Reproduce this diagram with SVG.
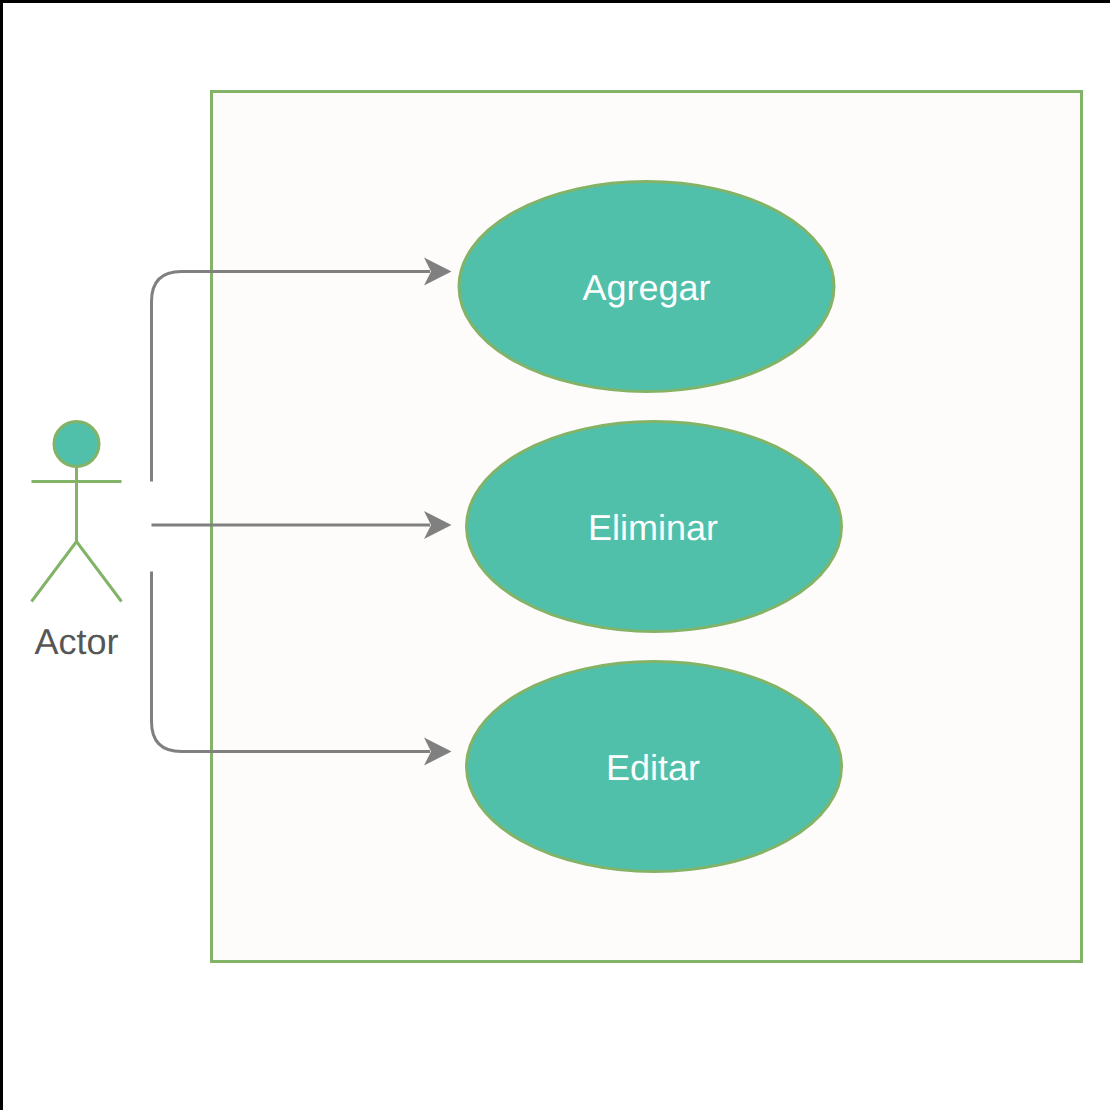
<svg xmlns="http://www.w3.org/2000/svg" width="1110" height="1110" viewBox="0 0 1110 1110">
<style>
.n{fill:#51c0aa;stroke:#82b366;stroke-width:3}
.l{fill:none;stroke:#82b366;stroke-width:3}
.c{fill:none;stroke:#808080;stroke-width:3}
.a{fill:#808080;stroke:none}
text{font-family:"Liberation Sans",Arial,sans-serif;font-size:36px;text-anchor:middle;text-rendering:geometricPrecision;opacity:.99}
.t{fill:#fff}
</style>
<rect x="0" y="0" width="1110" height="1110" fill="#fff"/>
<path d="M1.5 1110V1.5H1110" fill="none" stroke="#000" stroke-width="3"/>
<g id="system"><rect x="211.500" y="91.500" width="870" height="870" fill="#fdfcfa" stroke="#82b366" stroke-width="3"/></g>
<g id="connectors">
<path class="c" d="M151.500 481.500V301.500Q151.500 271.500 181.500 271.500H430"/>
<path class="a" d="M451.500 271.500L424 285.500L431 271.500L424 257.500Z"/>
<path class="c" d="M151.500 525H430"/>
<path class="a" d="M451.500 525L424 539L431 525L424 511Z"/>
<path class="c" d="M151.500 571.500V721.500Q151.500 751.500 181.500 751.500H430"/>
<path class="a" d="M451.500 751.500L424 765.500L431 751.500L424 737.500Z"/>
</g>
<g id="actor">
<ellipse class="n" cx="76.500" cy="444" rx="22.500" ry="22.500"/>
<path class="l" d="M76.500 466.500V541.500M31.500 481.500H121.500M31.500 601.500L76.500 541.500L121.500 601.500"/>
<text x="76.500" y="654" fill="#555555">Actor</text>
</g>
<g id="agregar"><ellipse class="n" cx="646.500" cy="286.500" rx="187.500" ry="105"/><text class="t" x="646.500" y="300">Agregar</text></g>
<g id="eliminar"><ellipse class="n" cx="654" cy="526.500" rx="187.500" ry="105"/><text class="t" x="653" y="540">Eliminar</text></g>
<g id="editar"><ellipse class="n" cx="654" cy="766.500" rx="187.500" ry="105"/><text class="t" x="653" y="780">Editar</text></g>
</svg>
